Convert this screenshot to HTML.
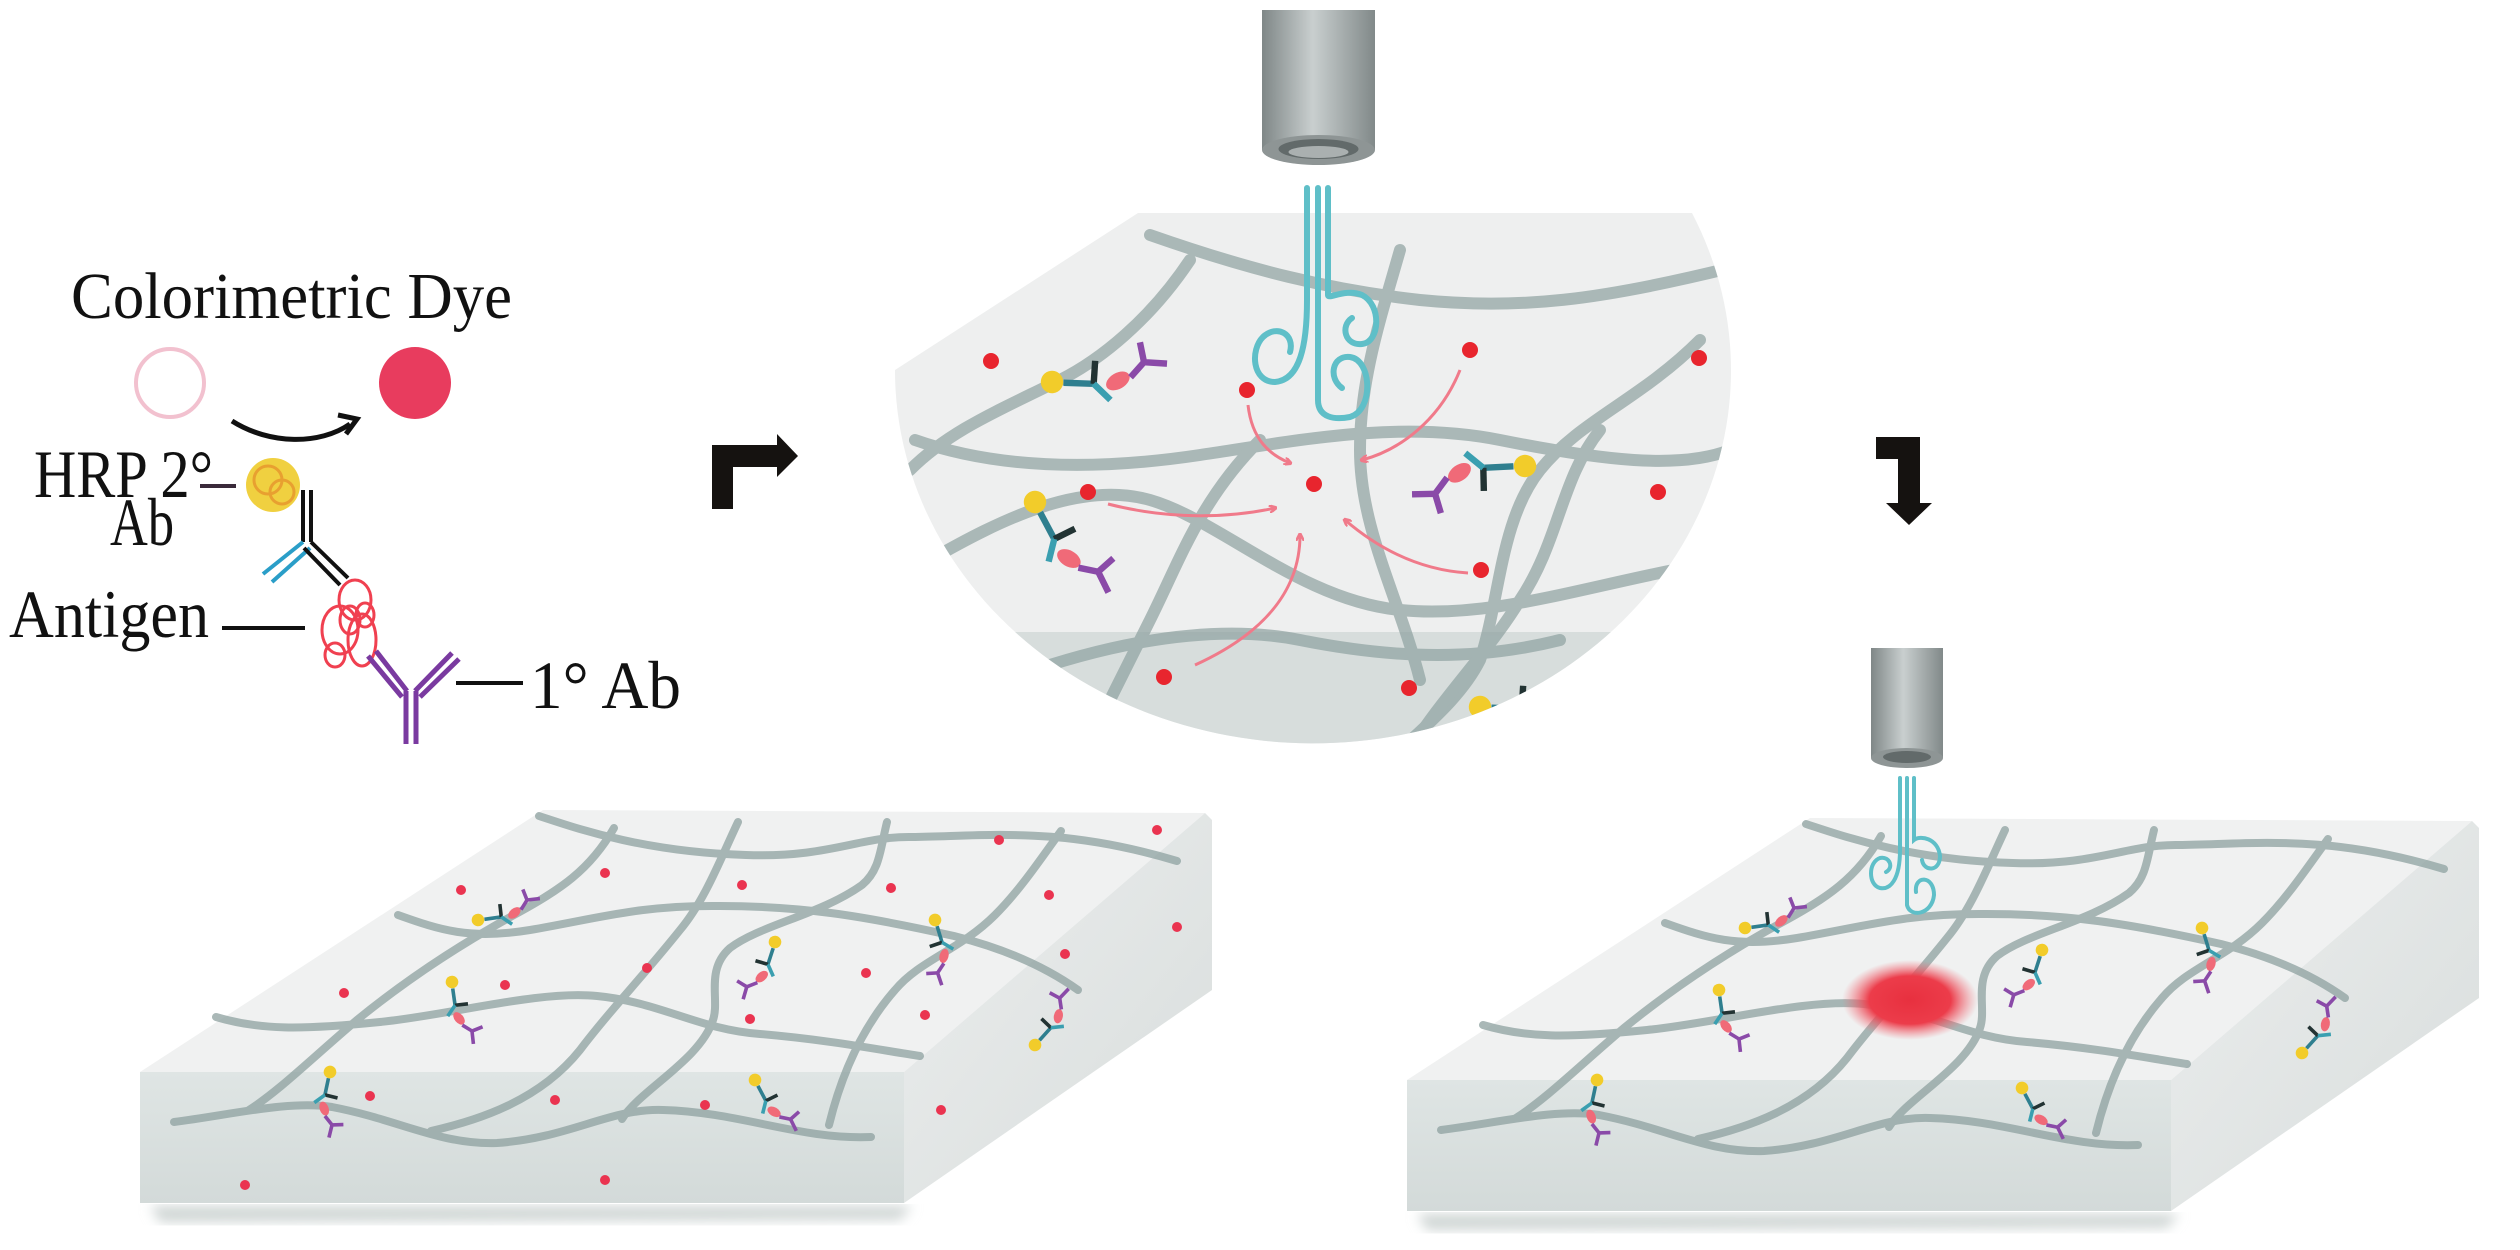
<!DOCTYPE html>
<html><head><meta charset="utf-8"><style>
html,body{margin:0;padding:0;background:#fff;}
svg{display:block;}
</style></head><body>
<svg width="2520" height="1250" viewBox="0 0 2520 1250" xmlns="http://www.w3.org/2000/svg">
<defs>
<linearGradient id="obj" x1="0" x2="1" y1="0" y2="0">
<stop offset="0" stop-color="#7f8787"/><stop offset="0.45" stop-color="#c9cfcf"/><stop offset="1" stop-color="#818989"/>
</linearGradient>
<linearGradient id="front" x1="0" x2="0" y1="0" y2="1">
<stop offset="0" stop-color="#dfe5e4"/><stop offset="1" stop-color="#d3dad9"/>
</linearGradient>
<linearGradient id="side" x1="0" x2="1" y1="0" y2="1">
<stop offset="0" stop-color="#eceeee"/><stop offset="1" stop-color="#d8dddc"/>
</linearGradient>
<radialGradient id="glow">
<stop offset="0" stop-color="#e8303f"/><stop offset="0.6" stop-color="#ec3c4a"/><stop offset="1" stop-color="#f2707a" stop-opacity="0"/>
</radialGradient>
<filter id="blur" x="-10%" y="-10%" width="120%" height="130%"><feGaussianBlur stdDeviation="6"/></filter>
<marker id="pa" markerWidth="8" markerHeight="8" refX="6" refY="4" orient="auto" markerUnits="userSpaceOnUse">
<path d="M0,0 L8,4 L0,8" fill="none" stroke="#f07a8a" stroke-width="2.5"/>
</marker>
<clipPath id="semi">
<path d="M1138,213 L1692,213 A418,373 0 1 1 895,370 Z"/>
</clipPath>
<g id="cx">
<circle cx="0" cy="0" r="7" fill="#f2cc2a"/>
<path d="M6,4 L22,14" stroke="#2f7f8f" stroke-width="4" fill="none"/>
<path d="M22,14 L30,2" stroke="#233" stroke-width="4" fill="none"/>
<path d="M22,14 L26,28" stroke="#3a9fb0" stroke-width="4" fill="none"/>
<ellipse cx="36" cy="20" rx="8" ry="5" fill="#f06a78"/>
<path d="M44,22 L56,18" stroke="#8a4aa8" stroke-width="4" fill="none"/>
<path d="M56,18 L60,6 M56,18 L68,26" stroke="#8a4aa8" stroke-width="4" fill="none"/>
</g>
<g id="fib" fill="none" stroke="#8ea1a0" stroke-width="8" stroke-linecap="round" opacity="0.75">
<path d="M539,816 C570,826 640,852 746,855 C830,858 860,836 912,837 C990,836 1060,826 1177,861"/>
<path d="M398,915 C440,930 470,940 530,930 C600,918 640,905 720,906 C800,906 860,915 954,936 C1010,950 1050,970 1078,990"/>
<path d="M216,1017 C260,1030 300,1030 380,1022 C450,1015 540,990 597,996 C660,1002 700,1030 760,1034 C830,1040 880,1050 920,1056"/>
<path d="M174,1122 C230,1115 290,1100 332,1107 C400,1120 440,1145 497,1143 C570,1138 610,1108 663,1110 C740,1112 800,1140 871,1137"/>
<path d="M614,828 C590,870 560,890 514,915 C450,950 400,985 357,1020 C310,1060 280,1090 249,1110"/>
<path d="M738,822 C720,860 705,900 680,930 C640,980 610,1010 580,1050 C540,1100 480,1120 431,1131"/>
<path d="M887,822 C880,850 880,870 862,885 C820,915 760,925 730,948 C705,970 720,1000 713,1020 C700,1060 640,1090 622,1119"/>
<path d="M1061,831 C1040,860 1020,890 995,915 C960,950 920,960 895,990 C860,1030 840,1080 829,1125"/>
</g>
</defs>

<!-- LEFT LEGEND -->
<text x="71" y="318" font-family="Liberation Serif, serif" font-size="66" textLength="441" lengthAdjust="spacingAndGlyphs" fill="#111">Colorimetric Dye</text>
<circle cx="170" cy="383" r="34" fill="none" stroke="#f2c1cf" stroke-width="4"/>
<circle cx="415" cy="383" r="36" fill="#e83c5e"/>
<path d="M232,421 C270,445 320,445 350,424" fill="none" stroke="#111" stroke-width="5"/>
<path d="M338,415 L357,419 L346,434" fill="none" stroke="#111" stroke-width="5"/>
<text x="34" y="497" font-family="Liberation Serif, serif" font-size="68" textLength="179" lengthAdjust="spacingAndGlyphs" fill="#111">HRP 2°</text>
<line x1="200" y1="486" x2="236" y2="486" stroke="#3a2a3a" stroke-width="4"/>
<text x="110" y="545" font-family="Liberation Serif, serif" font-size="68" textLength="64" lengthAdjust="spacingAndGlyphs" fill="#111">Ab</text>
<text x="9" y="637" font-family="Liberation Serif, serif" font-size="68" textLength="200" lengthAdjust="spacingAndGlyphs" fill="#111">Antigen</text>
<line x1="222" y1="628" x2="305" y2="628" stroke="#111" stroke-width="4"/>
<text x="530" y="708" font-family="Liberation Serif, serif" font-size="68" textLength="151" lengthAdjust="spacingAndGlyphs" fill="#111">1°  Ab</text>
<line x1="456" y1="683" x2="523" y2="683" stroke="#111" stroke-width="4"/>
<circle cx="273" cy="485" r="27" fill="#f0d040"/>
<circle cx="268" cy="480" r="14" fill="none" stroke="#e8a030" stroke-width="3"/>
<circle cx="282" cy="492" r="12" fill="none" stroke="#e8a030" stroke-width="3"/>
<path d="M303,490 L303,542 M311,490 L311,542" stroke="#111" stroke-width="4"/>
<path d="M303,542 L263,574 M310,548 L272,582" stroke="#2a9ec8" stroke-width="4"/>
<path d="M311,542 L348,578 M304,548 L340,585" stroke="#111" stroke-width="4"/>
<g fill="none" stroke="#f04050" stroke-width="3">
<ellipse cx="355" cy="600" rx="16" ry="20"/><ellipse cx="340" cy="630" rx="18" ry="24"/>
<ellipse cx="362" cy="640" rx="14" ry="26"/><ellipse cx="350" cy="620" rx="10" ry="14"/>
<ellipse cx="335" cy="655" rx="10" ry="12"/><ellipse cx="365" cy="615" rx="9" ry="12"/>
</g>
<path d="M376,651 L407,691 M368,656 L402,697 M452,653 L415,691 M459,659 L420,697 M406,691 L406,744 M416,691 L416,744" stroke="#7a3aa0" stroke-width="5"/>

<!-- ELBOW ARROWS -->
<path d="M712,509 L712,445 L777,445 L777,434 L798,456 L777,477 L777,467 L733,467 L733,509 Z" fill="#151210"/>
<path d="M1876,437 L1920,437 L1920,503 L1932,503 L1909,525 L1886,503 L1898,503 L1898,459 L1876,459 Z" fill="#151210"/>

<!-- TOP OBJECTIVE -->
<rect x="1262" y="10" width="113" height="140" fill="url(#obj)"/>
<ellipse cx="1318.5" cy="150" rx="56.5" ry="15" fill="#8e9595"/>
<ellipse cx="1318.5" cy="149" rx="40" ry="10" fill="#626a6a"/>
<ellipse cx="1318.5" cy="152" rx="30" ry="6" fill="#aab0b0"/>

<!-- SEMICIRCLE ZOOM -->
<g clip-path="url(#semi)">
<rect x="880" y="200" width="900" height="560" fill="#eeefef"/>
<rect x="880" y="632" width="900" height="130" fill="#d7dddc"/>
<g fill="none" stroke="#8ea1a0" stroke-width="12" stroke-linecap="round" opacity="0.7">
<path d="M1150,235 C1250,270 1330,290 1420,300 C1520,310 1600,300 1730,268"/>
<path d="M915,440 C1000,470 1100,470 1200,455 C1300,440 1400,420 1500,440 C1600,460 1680,470 1730,450"/>
<path d="M930,560 C1000,520 1080,480 1150,500 C1220,520 1300,600 1400,610 C1500,620 1600,580 1730,560"/>
<path d="M980,690 C1080,650 1200,620 1300,640 C1400,660 1480,660 1560,640"/>
<path d="M1190,260 C1150,320 1100,360 1060,380 C1000,410 950,430 910,470"/>
<path d="M1260,440 C1200,500 1180,560 1150,620 C1120,680 1100,720 1080,760"/>
<path d="M1400,250 C1380,320 1360,380 1360,450 C1360,530 1400,600 1420,680"/>
<path d="M1700,340 C1640,400 1580,420 1540,470 C1500,520 1500,600 1480,660 C1460,700 1420,730 1390,760"/>
<path d="M1600,430 C1560,480 1560,540 1520,600 C1490,650 1440,700 1410,750"/>
</g>
<g fill="#e8252e">
<circle cx="991" cy="361" r="8"/><circle cx="1247" cy="390" r="8"/><circle cx="1470" cy="350" r="8"/>
<circle cx="1699" cy="358" r="8"/><circle cx="1088" cy="492" r="8"/><circle cx="1314" cy="484" r="8"/>
<circle cx="1658" cy="492" r="8"/><circle cx="1481" cy="570" r="8"/><circle cx="1164" cy="677" r="8"/>
<circle cx="1409" cy="688" r="8"/>
</g>
<g fill="none" stroke="#f07a8a" stroke-width="3" marker-end="url(#pa)">
<path d="M1248,405 C1252,440 1270,455 1290,463"/>
<path d="M1460,370 C1440,420 1400,450 1362,460"/>
<path d="M1108,504 C1170,520 1230,518 1275,508"/>
<path d="M1468,573 C1420,570 1380,550 1345,520"/>
<path d="M1195,665 C1250,640 1300,600 1300,535"/>
</g>
<use href="#cx" transform="translate(1052,382) rotate(-30) scale(1.6)"/>
<use href="#cx" transform="translate(1035,502) rotate(30) scale(1.6)"/>
<use href="#cx" transform="translate(1525,466) rotate(145) scale(1.6)"/>
<use href="#cx" transform="translate(1480,707) rotate(-30) scale(1.6)"/>
</g>
<g fill="none" stroke="#5fbfc8" stroke-width="6" stroke-linecap="round">
<path d="M1307,188 L1307,300 C1307,345 1300,380 1275,382 C1252,382 1250,350 1263,337 C1277,324 1295,334 1290,352"/>
<path d="M1328,188 L1328,295 C1328,300 1345,288 1362,295 C1382,305 1380,342 1362,344 C1345,346 1340,326 1352,318"/>
<path d="M1318,188 L1318,400 C1318,418 1335,420 1350,417 C1374,410 1372,360 1350,357 C1332,355 1328,378 1342,388"/>
</g>

<!-- LEFT SLAB -->
<g>
<polygon points="150,1206 912,1206 900,1220 160,1222" fill="#cfd5d4" filter="url(#blur)"/>
<polygon points="543,810 1205,813 904,1072 140,1072" fill="#f0f1f1"/>
<polygon points="140,1072 904,1072 904,1203 140,1203" fill="url(#front)"/>
<polygon points="1205,813 1212,820 1212,990 904,1203 904,1072" fill="url(#side)"/>
<use href="#fib"/>
<g fill="#ea3450">
<circle cx="461" cy="890" r="5"/><circle cx="605" cy="873" r="5"/><circle cx="742" cy="885" r="5"/>
<circle cx="891" cy="888" r="5"/><circle cx="999" cy="840" r="5"/><circle cx="1157" cy="830" r="5"/>
<circle cx="1049" cy="895" r="5"/><circle cx="1177" cy="927" r="5"/><circle cx="344" cy="993" r="5"/>
<circle cx="505" cy="985" r="5"/><circle cx="647" cy="968" r="5"/><circle cx="866" cy="973" r="5"/>
<circle cx="1065" cy="954" r="5"/><circle cx="750" cy="1019" r="5"/><circle cx="925" cy="1015" r="5"/>
<circle cx="370" cy="1096" r="5"/><circle cx="555" cy="1100" r="5"/><circle cx="705" cy="1105" r="5"/>
<circle cx="941" cy="1110" r="5"/><circle cx="245" cy="1185" r="5"/><circle cx="605" cy="1180" r="5"/>
</g>
<use href="#cx" transform="translate(478,920) rotate(-40) scale(0.9)"/>
<use href="#cx" transform="translate(935,920) rotate(105) scale(0.9) scale(1,-1)"/>
<use href="#cx" transform="translate(452,982) rotate(50) scale(0.9)"/>
<use href="#cx" transform="translate(775,942) rotate(-40) scale(0.9) scale(-1,1)"/>
<use href="#cx" transform="translate(1035,1045) rotate(-80) scale(0.9)"/>
<use href="#cx" transform="translate(330,1072) rotate(70) scale(0.9)"/>
<use href="#cx" transform="translate(755,1080) rotate(30) scale(0.9)"/>
</g>

<!-- RIGHT SLAB -->
<g transform="translate(1267,8)">
<polygon points="150,1206 912,1206 900,1220 160,1222" fill="#cfd5d4" filter="url(#blur)"/>
<polygon points="543,810 1205,813 904,1072 140,1072" fill="#f0f1f1"/>
<polygon points="140,1072 904,1072 904,1203 140,1203" fill="url(#front)"/>
<polygon points="1205,813 1212,820 1212,990 904,1203 904,1072" fill="url(#side)"/>
<use href="#fib"/>
<use href="#cx" transform="translate(478,920) rotate(-40) scale(0.9)"/>
<use href="#cx" transform="translate(935,920) rotate(105) scale(0.9) scale(1,-1)"/>
<use href="#cx" transform="translate(452,982) rotate(50) scale(0.9)"/>
<use href="#cx" transform="translate(775,942) rotate(-40) scale(0.9) scale(-1,1)"/>
<use href="#cx" transform="translate(1035,1045) rotate(-80) scale(0.9)"/>
<use href="#cx" transform="translate(330,1072) rotate(70) scale(0.9)"/>
<use href="#cx" transform="translate(755,1080) rotate(30) scale(0.9)"/>
</g>
<ellipse cx="1910" cy="1000" rx="68" ry="40" fill="url(#glow)"/>

<!-- RIGHT OBJECTIVE + spirals (on top of slab) -->
<rect x="1871" y="648" width="72" height="110" fill="url(#obj)"/>
<ellipse cx="1907" cy="758" rx="36" ry="10" fill="#8e9595"/>
<ellipse cx="1907" cy="757" rx="24" ry="6" fill="#626a6a"/>
<g fill="none" stroke="#5fbfc8" stroke-width="4" stroke-linecap="round">
<path d="M1900,778 L1900,850 C1900,880 1890,890 1880,888 C1868,885 1868,862 1880,858 C1890,856 1894,868 1886,872"/>
<path d="M1914,778 L1914,840 C1920,835 1938,838 1940,856 C1940,872 1924,872 1922,860"/>
<path d="M1907,778 L1907,905 C1910,918 1932,915 1934,895 C1934,875 1914,875 1916,892"/>
</g>
</svg>
</body></html>
